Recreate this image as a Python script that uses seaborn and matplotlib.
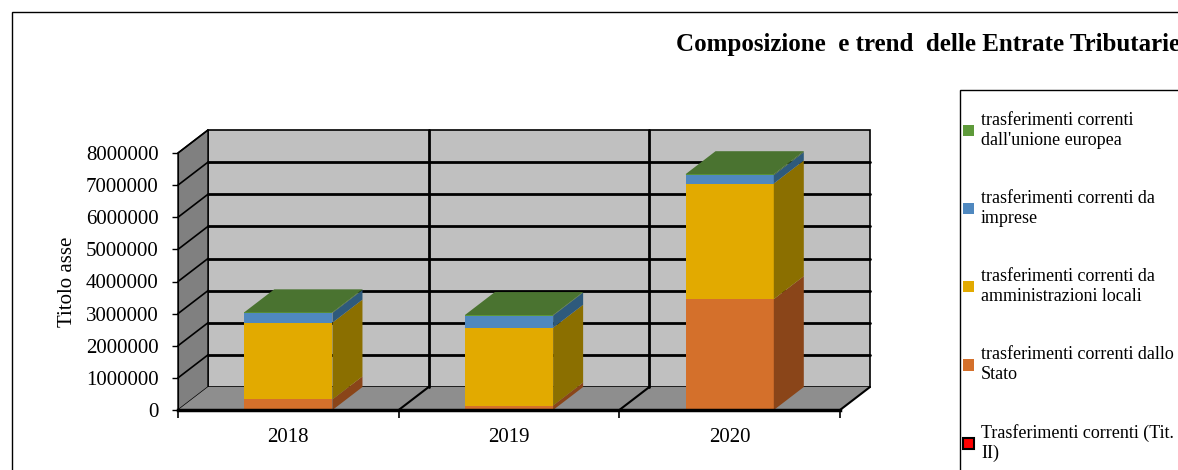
import matplotlib
matplotlib.use("Agg")
import matplotlib.pyplot as plt
import seaborn as sns
import numpy as np
import pandas as pd
from matplotlib.patches import Polygon, Rectangle, Patch

# ---------------- data ----------------
years = ["2018", "2019", "2020"]
series_names = [
    "trasferimenti correnti dallo\nStato",
    "trasferimenti correnti da\namministrazioni locali",
    "trasferimenti correnti da\nimprese",
    "trasferimenti correnti\ndall'unione europea",
]
stato = [330000, 140000, 3450000]
amm_locali = [2390000, 2420000, 3600000]
imprese = [300000, 380000, 260000]
unione_europea = [20000, 15000, 30000]
totale_label = "Trasferimenti correnti (Tit.\nII)"

front_colors = ["#d4702b", "#e2aa00", "#4f88bf", "#5e9a3a"]
side_colors = ["#8a4519", "#8b6f00", "#2e5a7c", "#3b5f27"]
top_color = "#4a7330"

y_ticks = [0, 1000000, 2000000, 3000000, 4000000, 5000000, 6000000, 7000000, 8000000]

# ---------------- figure ----------------
W, H = 1178, 470
sns.set_style("white")
plt.rcParams["font.family"] = ["Liberation Serif", "DejaVu Serif"]
plt.rcParams["text.color"] = "black"
plt.rcParams["axes.labelcolor"] = "black"
plt.rcParams["xtick.color"] = "black"
plt.rcParams["ytick.color"] = "black"
fig = plt.figure(figsize=(W / 100, H / 100), dpi=100)

ax_left, ax_right, ax_top, ax_bottom = 178, 840, 153, 410
ax = fig.add_axes([ax_left / W, (H - ax_bottom) / H,
                   (ax_right - ax_left) / W, (ax_bottom - ax_top) / H])
ax.set_xlim(-0.5, 2.5)
ax.set_ylim(0, 8000000)

depth_x_px, depth_y_px = 30, 23
dx = depth_x_px * 3.0 / (ax_right - ax_left)
dy = depth_y_px * 8000000.0 / (ax_bottom - ax_top)

segs = [stato, amm_locali, imprese, unione_europea]
cums = np.cumsum(np.array(segs, dtype=float), axis=0)

# walls & floor
ax.add_patch(Rectangle((-0.5 + dx, dy), 3.0, 8000000, facecolor="#c0c0c0",
                       edgecolor="black", lw=1.2, zorder=0.2, clip_on=False))
ax.add_patch(Polygon([(-0.5, 0), (-0.5, 8000000), (-0.5 + dx, 8000000 + dy), (-0.5 + dx, dy)],
                     closed=True, facecolor="#808080", edgecolor="black", lw=1.0,
                     zorder=0.3, clip_on=False))
ax.add_patch(Polygon([(-0.5, 0), (2.5, 0), (2.5 + dx, dy), (-0.5 + dx, dy)],
                     closed=True, facecolor="#8e8e8e", edgecolor="none",
                     zorder=0.3, clip_on=False))
for v in y_ticks[1:-1]:
    ax.plot([-0.5 + dx, 2.5 + dx], [v + dy, v + dy], color="black", lw=2.0,
            zorder=0.4, clip_on=False)
for v in y_ticks[1:]:
    ax.plot([-0.5, -0.5 + dx], [v, v + dy], color="black", lw=1.2,
            zorder=0.4, clip_on=False)
for xv in [0.5, 1.5]:
    ax.plot([xv + dx, xv + dx], [dy, 8000000 + dy], color="black", lw=2.0,
            zorder=0.4, clip_on=False)
for xv in [0.5, 1.5, 2.5]:
    ax.plot([xv, xv + dx], [0, dy], color="black", lw=1.5, zorder=0.4, clip_on=False)

# stacked bars (front faces), drawn from the tallest cumulative down
for i in range(len(segs) - 1, -1, -1):
    df = pd.DataFrame({"anno": years, "valore": cums[i]})
    sns.barplot(data=df, x="anno", y="valore", color=front_colors[i], width=0.4,
                saturation=1, ax=ax, zorder=3, edgecolor="none", linewidth=0)

bars = ax.patches[-len(years):]
for j, p in enumerate(bars):
    x0, w = p.get_x(), p.get_width()
    bottom = 0.0
    for i in range(len(segs)):
        top = cums[i][j]
        ax.add_patch(Polygon([(x0 + w, bottom), (x0 + w, top), (x0 + w + dx, top + dy),
                              (x0 + w + dx, bottom + dy)], closed=True,
                             facecolor=side_colors[i], edgecolor="none", zorder=3,
                             clip_on=False))
        bottom = top
    T = cums[-1][j]
    ax.add_patch(Polygon([(x0, T), (x0 + w, T), (x0 + w + dx, T + dy), (x0 + dx, T + dy)],
                         closed=True, facecolor=top_color, edgecolor="none", zorder=3,
                         clip_on=False))

# axes styling
for s in ["top", "right"]:
    ax.spines[s].set_visible(False)
ax.spines["left"].set_linewidth(0.8)
ax.spines["left"].set_color("black")
ax.spines["bottom"].set_linewidth(2.5)
ax.spines["bottom"].set_color("black")
ax.spines["bottom"].set_zorder(4)
ax.set_yticks(y_ticks)
ax.set_yticklabels([str(v) for v in y_ticks])
ax.tick_params(axis="y", length=4, width=1, pad=10, labelsize=15, left=True)
ax.set_xticks([0, 1, 2])
ax.set_xticklabels(years)
ax.set_xticks([-0.5, 0.5, 1.5, 2.5], minor=True)
ax.tick_params(axis="x", which="major", length=0, pad=13, labelsize=15)
ax.tick_params(axis="x", which="minor", length=6, width=1.2, bottom=True)
ax.set_xlabel("")
ax.set_ylabel("Titolo asse", fontsize=15, labelpad=6)
ax.patch.set_alpha(0)

# outer frame
fig.add_artist(Rectangle((12 / W, -0.2), 1.5, (H - 12) / H + 0.2, transform=fig.transFigure,
                         fill=False, edgecolor="black", lw=1.0))
fig.text(676 / W, 1 - 44 / H, "Composizione  e trend  delle Entrate Tributarie",
         ha="left", va="center", fontsize=18, fontweight="bold", color="black")

# legend
fig.add_artist(Rectangle((960 / W, -0.2), 1.0, (H - 90) / H + 0.2, transform=fig.transFigure,
                         fill=False, edgecolor="black", lw=1.0))
handles = [Patch(facecolor=front_colors[i], edgecolor="none") for i in range(3, -1, -1)]
handles.append(Patch(facecolor="#ff0000", edgecolor="black", lw=1.5))
labels = [series_names[i] for i in range(3, -1, -1)] + [totale_label]
fig.legend(handles, labels, loc="upper left", bbox_to_anchor=(963 / W, 1 - 112 / H),
           frameon=False, fontsize=13, labelspacing=2.3, handlelength=0.6,
           handleheight=0.6, handletextpad=0.4, borderpad=0, borderaxespad=0,
           labelcolor="black")

fig.savefig("out.png", dpi=100)
